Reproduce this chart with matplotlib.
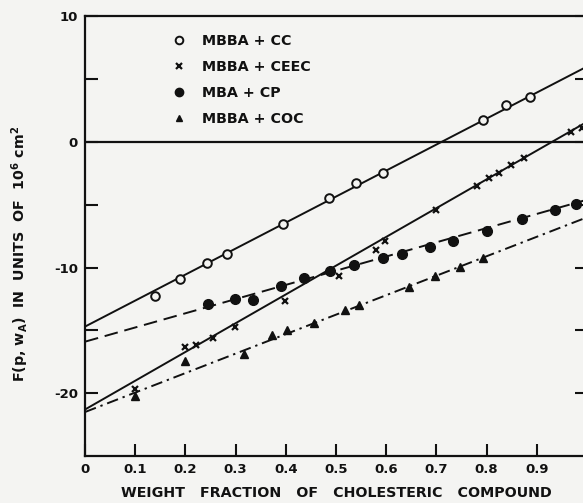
import numpy as np
import matplotlib
matplotlib.use("Agg")
import matplotlib.pyplot as plt
from matplotlib.lines import Line2D

# ---- data ----
cc_x = [0.14, 0.19, 0.243, 0.283, 0.394, 0.487, 0.540, 0.593, 0.793, 0.839, 0.886]
cc_y = [-12.3, -10.9, -9.6, -8.9, -6.5, -4.5, -3.3, -2.5, 1.75, 2.9, 3.6]

ceec_x = [0.10, 0.20, 0.221, 0.254, 0.298, 0.398, 0.506, 0.579, 0.598, 0.700,
          0.780, 0.805, 0.825, 0.848, 0.874, 0.968, 0.990]
ceec_y = [-19.7, -16.3, -16.2, -15.6, -14.7, -12.7, -10.7, -8.6, -7.9, -5.45,
          -3.5, -2.9, -2.45, -1.8, -1.3, 0.8, 1.1]

cp_x = [0.245, 0.299, 0.335, 0.391, 0.436, 0.489, 0.535, 0.593, 0.632, 0.688,
        0.734, 0.800, 0.871, 0.936, 0.979]
cp_y = [-12.9, -12.5, -12.6, -11.5, -10.8, -10.25, -9.8, -9.2, -8.9, -8.35,
        -7.85, -7.1, -6.15, -5.4, -4.95]

coc_x = [0.10, 0.20, 0.316, 0.373, 0.403, 0.457, 0.518, 0.546, 0.645, 0.698,
         0.748, 0.792]
coc_y = [-20.2, -17.4, -16.9, -15.4, -15.0, -14.45, -13.4, -13.0, -11.55, -10.65,
         -9.95, -9.2]

# fitted straight lines (intercept at w=0, slope)
fit_names = ["MBBA + CC", "MBBA + CEEC", "MBA + CP", "MBBA + COC"]
fit_intercept = [-14.7, -21.3, -15.9, -21.5]
fit_slope = [20.7, 22.9, 11.3, 15.5]

xtick_vals = [0, 0.1, 0.2, 0.3, 0.4, 0.5, 0.6, 0.7, 0.8, 0.9]
xtick_labels = ["0", "0.1", "0.2", "0.3", "0.4", "0.5", "0.6", "0.7", "0.8", "0.9"]
ytick_vals = [10, 0, -10, -20]
ytick_labels = ["10", "0", "-10", "-20"]

# ---- figure ----
bg = "#f4f4f2"
ink = "#111111"
plt.rcParams['font.family'] = ['DejaVu Sans']
plt.rcParams['font.weight'] = 'bold'

fig = plt.figure(figsize=(5.83, 5.03), dpi=100, facecolor=bg)
ax = fig.add_axes([85 / 583, 47 / 503, 502 / 583, 439.7 / 503], facecolor=bg)

ax.set_xlim(0, 1.0)
ax.set_ylim(-25, 10)

xx = np.array([0.0, 1.0])
styles = [
    dict(ls="-"),
    dict(ls="-"),
    dict(ls=(0, (7, 3.5))),
    dict(ls=(0, (6, 2.5, 1.2, 2.5))),
]
for b, m, st in zip(fit_intercept, fit_slope, styles):
    ax.plot(xx, b + m * xx, color=ink, lw=1.4, **st, zorder=2)

ax.axhline(0, color=ink, lw=1.6, zorder=2)

ax.plot(cc_x, cc_y, ls="none", marker="o", ms=6.2, mfc=bg, mec=ink, mew=1.4, zorder=3)
ax.plot(ceec_x, ceec_y, ls="none", marker="x", ms=5, mec=ink, mew=1.6, zorder=3)
ax.plot(cp_x, cp_y, ls="none", marker="o", ms=7, mfc=ink, mec=ink, zorder=3)
ax.plot(coc_x, coc_y, ls="none", marker="^", ms=6, mfc=ink, mec=ink, zorder=3)

# legend (markers only)
handles = [
    Line2D([], [], ls="none", marker="o", ms=5.5, mfc=bg, mec=ink, mew=1.4),
    Line2D([], [], ls="none", marker="x", ms=5, mec=ink, mew=1.6),
    Line2D([], [], ls="none", marker="o", ms=6, mfc=ink, mec=ink),
    Line2D([], [], ls="none", marker="^", ms=5, mfc=ink, mec=ink),
]
leg = ax.legend(handles, fit_names, loc="upper left", bbox_to_anchor=(0.15, 0.99),
                frameon=False, handlelength=0.8, handletextpad=1.2,
                labelspacing=0.85, prop=dict(size=10.3, weight="bold"))
for t in leg.get_texts():
    t.set_color(ink)

# spines
for s in ax.spines.values():
    s.set_linewidth(1.6)
    s.set_color(ink)

ax.set_xticks(xtick_vals)
ax.set_xticklabels(xtick_labels)
ax.set_yticks(ytick_vals)
ax.set_yticklabels(ytick_labels)
ax.set_yticks([5, -5, -15], minor=True)
ax.tick_params(axis="both", which="both", direction="in", length=9, width=1.5,
               colors=ink, labelsize=9.5, pad=5)
ax.tick_params(axis="y", which="both", right=True, left=True)
ax.tick_params(axis="x", which="both", top=False)

ax.set_xlabel("WEIGHT   FRACTION   OF   CHOLESTERIC   COMPOUND", fontsize=10.3,
              fontweight="bold", color=ink)
ax.xaxis.set_label_coords(0.5, -0.068)
ax.set_ylabel(r"F(p, w$_\mathbf{A}$)  IN  UNITS  OF  10$^\mathbf{6}$ cm$^\mathbf{2}$",
              fontsize=10.3, fontweight="bold", color=ink)
ax.yaxis.set_label_coords(-0.108, 0.46)

fig.savefig("out.png", dpi=100, facecolor=bg)
